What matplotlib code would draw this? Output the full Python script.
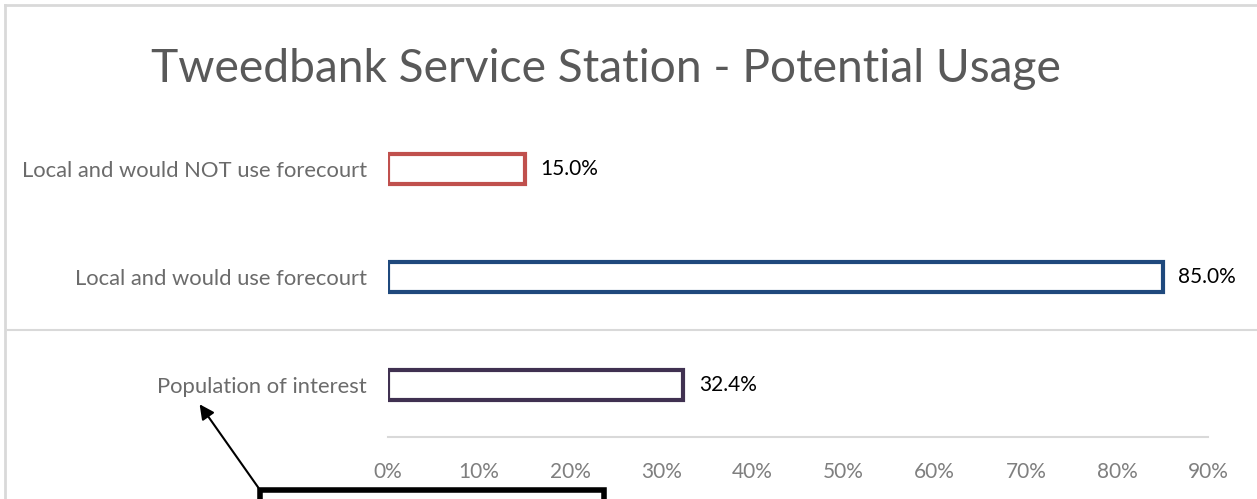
import matplotlib.pyplot as plt
from matplotlib.lines import Line2D
from matplotlib.patches import Rectangle

categories = ['Population of interest', 'Local and would use forecourt', 'Local and would NOT use forecourt']
values = [32.4, 85.0, 15.0]
edge_colors = ['#403151', '#1F497D', '#C0504D']
ticks = [0, 10, 20, 30, 40, 50, 60, 70, 80, 90]

plt.rcParams['font.family'] = ['Lato', 'DejaVu Sans']

fig = plt.figure(figsize=(12.57, 4.99), dpi=100)
ax = fig.add_axes([0.3087, 0.1242, 0.6524, 0.6453])

# hollow bars, outline only
ax.barh(range(len(categories)), values, height=0.28, color='white',
        edgecolor=edge_colors, linewidth=3.0)

for i, v in enumerate(values):
    ax.text(v + 1.7, i, f'{v:.1f}%', va='center', ha='left', fontsize=15, color='black')

ax.set_xlim(0, 90)
ax.set_ylim(-0.48, 2.5)
ax.set_xticks(ticks)
ax.set_xticklabels([f'{t}%' for t in ticks], color='#7F7F7F', fontsize=15)
ax.set_yticks(range(len(categories)))
ax.set_yticklabels(categories, color='#6B6B6B', fontsize=15.8)
ax.tick_params(axis='both', length=0)
ax.tick_params(axis='x', pad=18)
ax.tick_params(axis='y', pad=15)

for side in ['top', 'right', 'left']:
    ax.spines[side].set_visible(False)
ax.spines['bottom'].set_color('#D9D9D9')
ax.spines['bottom'].set_linewidth(1.5)

fig.text(0.482, 0.862, 'Tweedbank Service Station - Potential Usage', ha='center', va='center',
         fontsize=33.2, color='#595959')

# chart frame lines
fig.add_artist(Line2D([4.5 / 1257, 4.5 / 1257], [0, 1 - 4.5 / 499], color='#D9D9D9', lw=2))
fig.add_artist(Line2D([4.5 / 1257, 1], [1 - 4.5 / 499, 1 - 4.5 / 499], color='#D9D9D9', lw=2))
fig.add_artist(Line2D([8 / 1257, 1], [1 - 330 / 499, 1 - 330 / 499], color='#D9D9D9', lw=1.5))

# callout box with arrow
fig.add_artist(Rectangle((260 / 1257, -0.05), 344 / 1257, 0.05 + 1 - 490 / 499,
                         fill=False, edgecolor='black', lw=4))
ax.annotate('', xy=(198 / 1257, 1 - 402 / 499), xycoords='figure fraction',
            xytext=(260 / 1257, 1 - 490 / 499), textcoords='figure fraction',
            arrowprops=dict(arrowstyle='-|>', color='black', lw=1.5, mutation_scale=22),
            annotation_clip=False)

fig.savefig('out.png', dpi=100)
